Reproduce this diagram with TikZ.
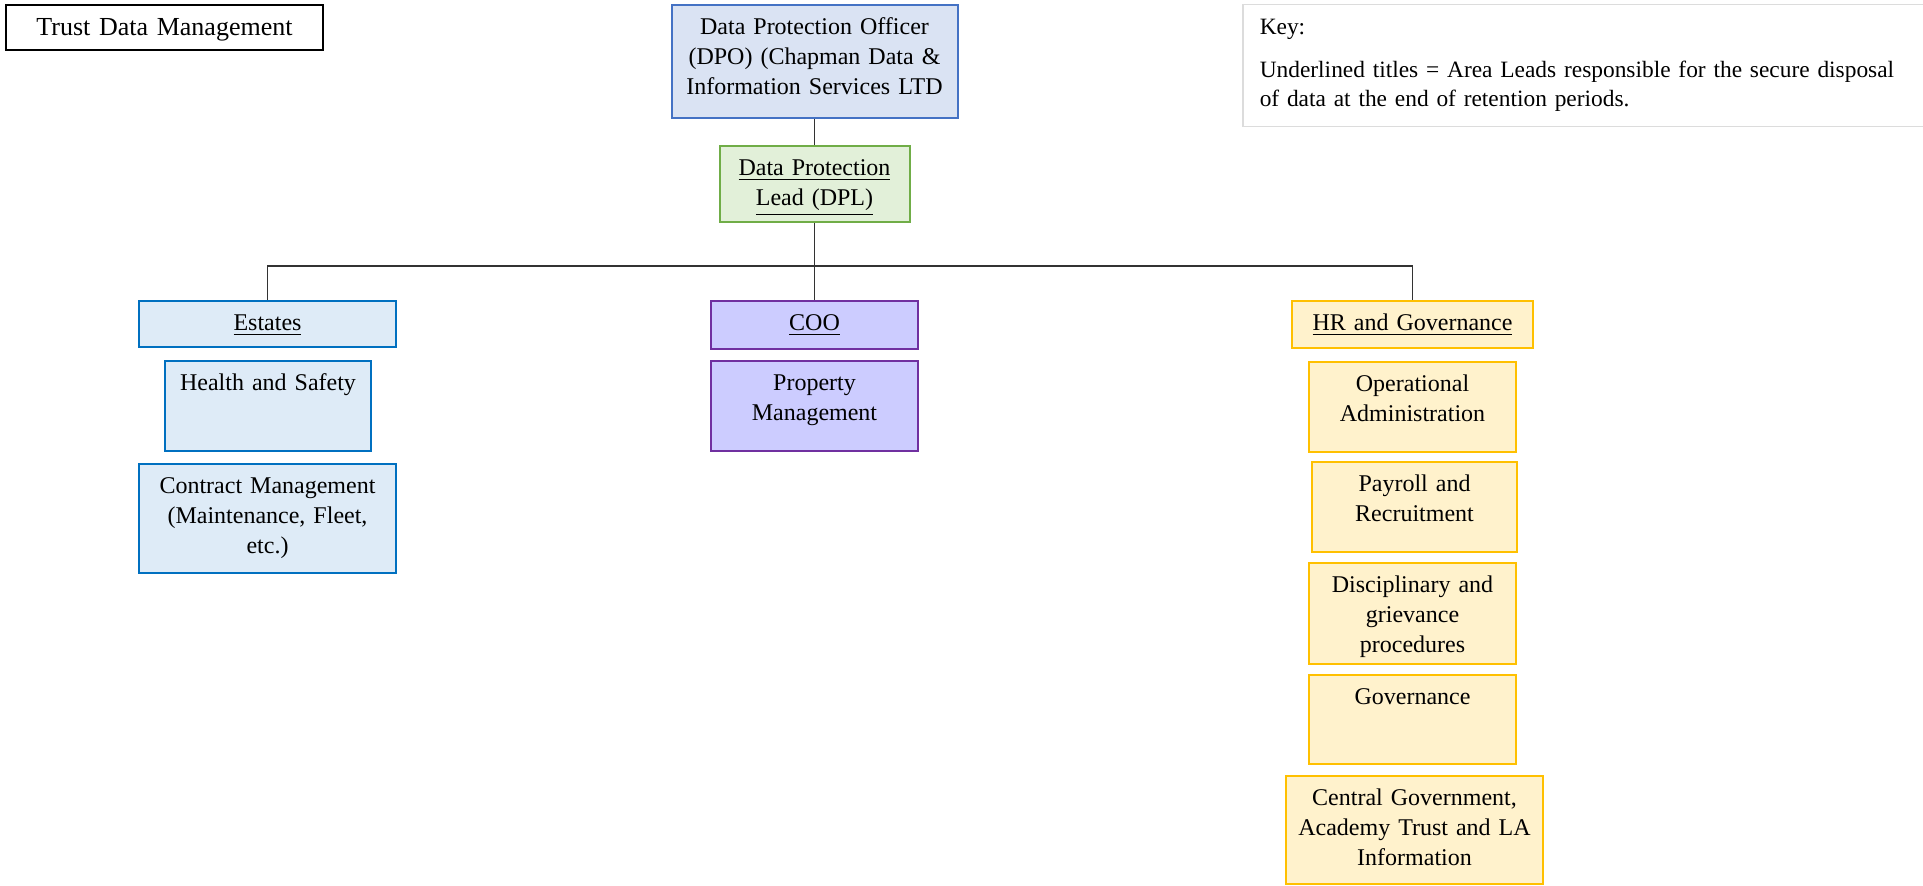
\documentclass[tikz,border=0pt]{standalone}
\usepackage{fontspec}
\setmainfont{Liberation Serif}
\usepackage{tikz}
\definecolor{dpofill}{HTML}{DAE3F3}
\definecolor{dpoline}{HTML}{4472C4}
\definecolor{dplfill}{HTML}{E2F0D9}
\definecolor{dplline}{HTML}{70AD47}
\definecolor{estfill}{HTML}{DEEBF7}
\definecolor{estline}{HTML}{0070C0}
\definecolor{coofill}{HTML}{CCCCFF}
\definecolor{cooline}{HTML}{7030A0}
\definecolor{hrfill}{HTML}{FFF2CC}
\definecolor{hrline}{HTML}{FFC000}
\definecolor{keyline}{HTML}{DCDCDC}

\begin{document}
\begin{tikzpicture}[x=0.5pt,y=-0.5pt,
  box/.style={draw,line width=1pt,inner sep=0pt,align=center,anchor=north,
    font=\fontsize{12}{15}\selectfont,text height=15pt},
  dpobox/.style={box,draw=dpoline,fill=dpofill},
  dplbox/.style={box,draw=dplline,fill=dplfill},
  estbox/.style={box,draw=estline,fill=estfill},
  coobox/.style={box,draw=cooline,fill=coofill},
  hrbox/.style={box,draw=hrline,fill=hrfill},
  link/.style={draw=black!80,line width=0.8pt}]
\useasboundingbox (0,0) rectangle (1923,886);

% title and key
\node[box,draw=black,line width=1.2pt,font=\fontsize{13}{15}\selectfont,
  text width=158.5pt,text depth=7.5pt] (trust) at (164.5,4) {Trust Data Management};
\node[box,draw=keyline,line width=0.75pt,fill=white,anchor=north west,align=left,
  font=\fontsize{11.7}{14.5}\selectfont,
  inner xsep=8.5pt,text width=345pt,text depth=46pt] (key) at (1242,4)
  {Key:\\[7pt]Underlined titles = Area Leads responsible for the secure disposal\\of data at the end of retention periods.};

% top of the tree
\node[dpobox,text width=143pt,text depth=41.5pt] (dpo) at (814.5,4)
  {Data Protection Officer\\(DPO) (Chapman Data \&\\Information Services LTD};
\node[dplbox,text width=95pt,text depth=23pt] (dpl) at (814.5,145)
  {\underline{Data Protection}\\\underline{Lead (DPL)}};

% estates
\node[estbox,text width=128.5pt,text depth=8pt] (estates) at (267.5,300) {\underline{Estates}};
\node[estbox,text width=103pt,text depth=30pt] (health) at (268,360) {Health and Safety};
\node[estbox,text width=128.5pt,text depth=39.5pt] (contract) at (267.5,463)
  {Contract Management\\(Maintenance, Fleet,\\etc.)};

% coo
\node[coobox,text width=103.5pt,text depth=9pt] (coo) at (814.5,300) {\underline{COO}};
\node[coobox,text width=103.5pt,text depth=30pt] (property) at (814.5,360) {Property\\Management};

% hr
\node[hrbox,text width=120.5pt,text depth=8.5pt] (hr) at (1412.5,300) {\underline{HR and Governance}};
\node[hrbox,text width=103.5pt,text depth=30pt] (operational) at (1412.5,361) {Operational\\Administration};
\node[hrbox,text width=102.5pt,text depth=30pt] (payroll) at (1414.5,461) {Payroll and\\Recruitment};
\node[hrbox,text width=103.5pt,text depth=35.5pt] (disciplinary) at (1412.5,562)
  {Disciplinary and\\grievance\\procedures};
\node[hrbox,text width=103.5pt,text depth=29.5pt] (governance) at (1412.5,674) {Governance};
\node[hrbox,text width=128.5pt,text depth=39pt] (central) at (1414.5,775)
  {Central Government,\\Academy Trust and LA\\Information};

% connectors
\coordinate (bus) at (814.5,266);
\draw[link] (dpo) -- (dpl);
\draw[link] (dpl) -- (bus);
\draw[link] (estates.north) |- (bus) -| (hr.north);
\draw[link] (bus) -- (coo);
\end{tikzpicture}
\end{document}
